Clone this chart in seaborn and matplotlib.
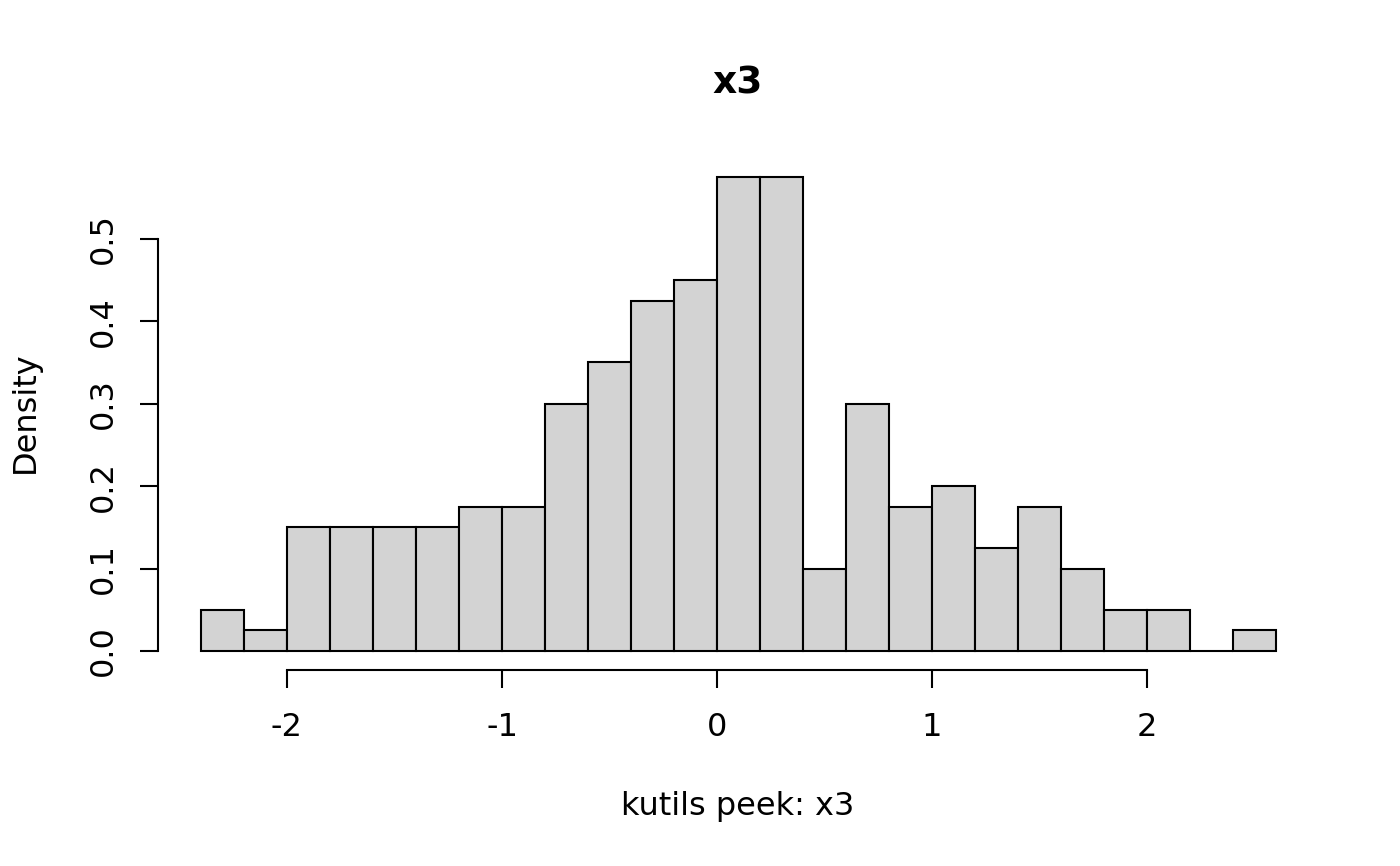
import numpy as np
import pandas as pd
import seaborn as sns
import matplotlib
matplotlib.use("Agg")
import matplotlib.pyplot as plt

# histogram of x3: bin edges of width 0.2 and counts per bin (n = 200)
bin_left = [-2.4, -2.2, -2.0, -1.8, -1.6, -1.4, -1.2, -1.0, -0.8, -0.6,
            -0.4, -0.2, 0.0, 0.2, 0.4, 0.6, 0.8, 1.0, 1.2, 1.4,
            1.6, 1.8, 2.0, 2.2, 2.4]
counts = [2, 1, 6, 6, 6, 6, 7, 7, 12, 14,
          17, 18, 23, 23, 4, 12, 7, 8, 5, 7,
          4, 2, 2, 0, 1]
bin_width = 0.2
x_ticks = [-2, -1, 0, 1, 2]
y_ticks = [0.0, 0.1, 0.2, 0.3, 0.4, 0.5]

edges = [round(b, 2) for b in bin_left] + [round(bin_left[-1] + bin_width, 2)]
df = pd.DataFrame({"x3": np.array(bin_left) + bin_width / 2, "n": counts})

sns.set_theme(style="white")
plt.rcParams["font.family"] = ["DejaVu Sans"]

fig = plt.figure(figsize=(14, 8.66), dpi=100)
ax = fig.add_axes([158 / 1400, 1 - 670 / 866, (1319 - 158) / 1400, (670 - 158) / 866])

sns.histplot(data=df, x="x3", weights="n", bins=edges, stat="density",
             color="#D3D3D3", edgecolor="black", linewidth=1.5, alpha=1,
             ax=ax)

ax.set_xlim(-2.6, 2.8)
ax.set_ylim(-0.023, 0.598)
ax.set_xticks(x_ticks)
ax.set_xticklabels([str(t) for t in x_ticks])
ax.set_yticks(y_ticks)
ax.set_yticklabels([f"{t:.1f}" for t in y_ticks], rotation=90, va="center")

for side in ["top", "right"]:
    ax.spines[side].set_visible(False)
ax.spines["left"].set_bounds(0, 0.5)
ax.spines["bottom"].set_bounds(-2, 2)
for side in ["left", "bottom"]:
    ax.spines[side].set_color("black")
    ax.spines[side].set_linewidth(1.5)

ax.tick_params(axis="both", which="major", direction="out", length=13,
               width=1.5, color="black", labelsize=23, labelcolor="black",
               bottom=True, left=True)
ax.tick_params(axis="x", pad=17)
ax.tick_params(axis="y", pad=15)

ax.set_xlabel("")
ax.set_ylabel("")
fig.text(738 / 1400, 1 - 83 / 866, "x3", ha="center", va="center",
         fontsize=27, fontweight="bold", color="black")
fig.text(738 / 1400, 1 - 807 / 866, "kutils peek: x3", ha="center",
         va="center", fontsize=23, color="black")
fig.text(25 / 1400, 1 - 412 / 866, "Density", ha="center", va="center",
         rotation=90, fontsize=23, color="black")

fig.savefig("out.png", dpi=100, facecolor="white")
